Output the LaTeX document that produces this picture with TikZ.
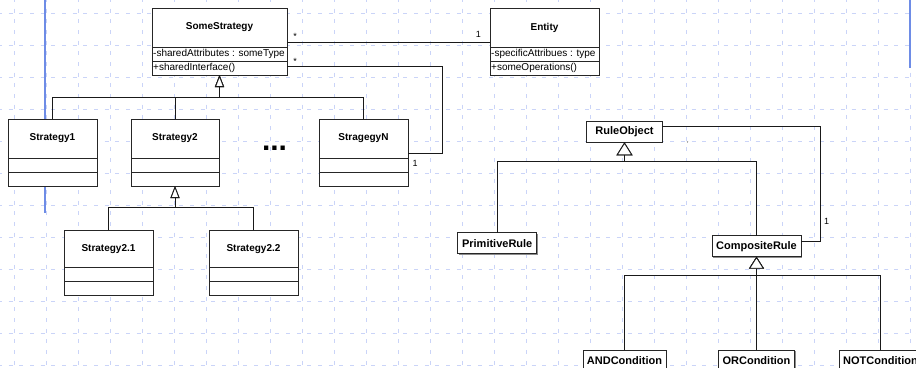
\documentclass[tikz,border=0pt]{standalone}
\usepackage{fontspec}
\setmainfont{Liberation Sans}
\usetikzlibrary{arrows.meta,shadows}

\definecolor{gridblue}{RGB}{202,212,248}
\definecolor{guideblue}{RGB}{110,140,230}

% one UML class with name, attribute and operation compartments
% #1 node name, #2 north-west corner, #3 width, #4 name height, #5 name, #6 attribute, #7 operation
\newcommand\umlclass[7]{%
  \node[classname, minimum width=#3, minimum height=#4, anchor=north west] (#1) at #2 {#5};
  \node[compart, minimum width=#3, anchor=north] (#1-a) at (#1.south) {};
  \node[member] at (#1-a.west) {#6};
  \node[compart, minimum width=#3, anchor=north] (#1-o) at (#1-a.south) {};
  \node[member] at (#1-o.west) {#7};
}

\tikzset{
  gridline/.style={draw=gridblue, line width=1pt, dash pattern=on 4pt off 6.67pt, dash phase=2pt},
  guide/.style={draw=guideblue, line width=1.2pt},
  classname/.style={draw=black!85, fill=white, line width=0.9pt, inner sep=0pt, outer sep=0pt,
    font=\bfseries\fontsize{10}{12}\selectfont},
  compart/.style={draw=black!85, fill=white, line width=0.9pt, inner sep=0pt, outer sep=0pt,
    minimum height=14pt},
  member/.style={anchor=west, inner sep=1pt, font=\fontsize{10}{12}\selectfont},
  rulebox/.style={draw=black!85, fill=white, line width=0.9pt, inner sep=0pt, outer sep=0pt,
    minimum height=21pt, font=\bfseries\fontsize{11}{13}\selectfont,
    drop shadow={shadow xshift=1pt, shadow yshift=-1pt, fill=black!45, opacity=1}},
  assoc/.style={draw=black!90, line width=0.9pt},
  gen/.style={draw=black!90, line width=0.9pt, -{Triangle[width=9pt,length=12pt,fill=white]}},
  genbig/.style={draw=black!90, line width=0.9pt, -{Triangle[width=16pt,length=13pt,fill=white]}},
  gensub/.style={draw=black!90, line width=0.9pt, -{Triangle[width=15pt,length=12pt,fill=white]}},
  mult/.style={inner sep=0pt, font=\fontsize{9}{10}\selectfont},
}

\begin{document}
\begin{tikzpicture}[x=1pt, y=-1pt]
  \useasboundingbox (0,0) rectangle (916,367);
  \clip (0,0) rectangle (916,367);
  \fill[white] (0,0) rectangle (916,367);

  % background grid
  \foreach \i in {0,...,11} \draw[gridline] (0,{13+32*\i}) -- (916,{13+32*\i});
  \foreach \i in {0,...,28} \draw[gridline] ({14+32*\i},0) -- ({14+32*\i},367);
  \draw[guide] (45,0) -- (45,213);
  \draw[guide] (910,0) -- (910,68);

  % strategy hierarchy
  \umlclass{ss}{(152,8)}{135pt}{39pt}{SomeStrategy}{-sharedAttributes : someType}{+sharedInterface()}
  \umlclass{en}{(490,8)}{109pt}{39pt}{Entity}{-specificAttribues : type}{+someOperations()}
  \umlclass{s1}{(8,119)}{89pt}{39pt}{Strategy1}{}{}
  \umlclass{s2}{(131,119)}{88pt}{39pt}{Strategy2}{}{}
  \umlclass{sn}{(319,119)}{89pt}{39pt}{StragegyN}{}{}
  \umlclass{s21}{(64,230)}{89pt}{37.7pt}{Strategy2.1}{}{}
  \umlclass{s22}{(209,230)}{89pt}{37.7pt}{Strategy2.2}{}{}

  \node[inner sep=0pt, anchor=base, font=\bfseries\fontsize{30}{30}\selectfont] (dots) at (274.5,150.3) {...};

  % associations
  \draw[assoc] ([yshift=4.4pt]ss.south east) -- ([yshift=4.4pt]en.south west);
  \draw[assoc] ([yshift=1.3pt]ss-o.east) -| ([xshift=34pt,yshift=5pt]sn.south east) -- ([yshift=5pt]sn.south east);
  \node[mult] at (295,36) {*};
  \node[mult] at (295,61) {*};
  \node[mult] at (478.3,34.5) {1};
  \node[mult] at (415,163) {1};

  % generalizations
  \draw[gen] (s1.north) |- ([yshift=-22.3pt]ss-o.south) -- (ss-o.south);
  \draw[gen] (s2.north) |- ([yshift=-22.3pt]ss-o.south) -- (ss-o.south);
  \draw[gen] (sn.north) |- ([yshift=-22.3pt]ss-o.south) -- (ss-o.south);
  \draw[gen] (s21.north) |- ([yshift=-21.7pt]s2-o.south) -- (s2-o.south);
  \draw[gen] (s22.north) |- ([yshift=-21.7pt]s2-o.south) -- (s2-o.south);

  % rule hierarchy
  \node[rulebox, minimum width=75.6pt, minimum height=20.6pt] (ro) at (624.5,132) {RuleObject};
  \node[rulebox, minimum width=79pt] (pr) at (497.2,243.3) {PrimitiveRule};
  \node[rulebox, minimum width=89pt] (cr) at (756.5,246.2) {CompositeRule};
  \node[rulebox, minimum width=83pt] (andc) at (624.5,360.5) {ANDCondition};
  \node[rulebox, minimum width=76pt] (orc) at (756.5,360.5) {ORCondition};
  \node[rulebox, minimum width=82pt] (notc) at (880.5,360.5) {NOTCondition};

  \draw[genbig] (pr.north) |- ([yshift=-18.7pt]ro.south) -- (ro.south);
  \draw[genbig] (cr.north) |- ([yshift=-18.7pt]ro.south) -- (ro.south);
  \draw[gensub] (andc.north) |- ([yshift=-19pt]cr.south) -- (cr.south);
  \draw[gensub] (orc.north) -- (cr.south);
  \draw[gensub] (notc.north) |- ([yshift=-19pt]cr.south) -- (cr.south);

  \draw[assoc] ([yshift=5.3pt]ro.east) -| ([xshift=19pt,yshift=5.2pt]cr.east) -- ([yshift=5.2pt]cr.east);
  \node[mult, font=\fontsize{4}{4}\selectfont] at (687.7,143) {*};
  \node[mult] at (826.7,221) {1};
\end{tikzpicture}
\end{document}
